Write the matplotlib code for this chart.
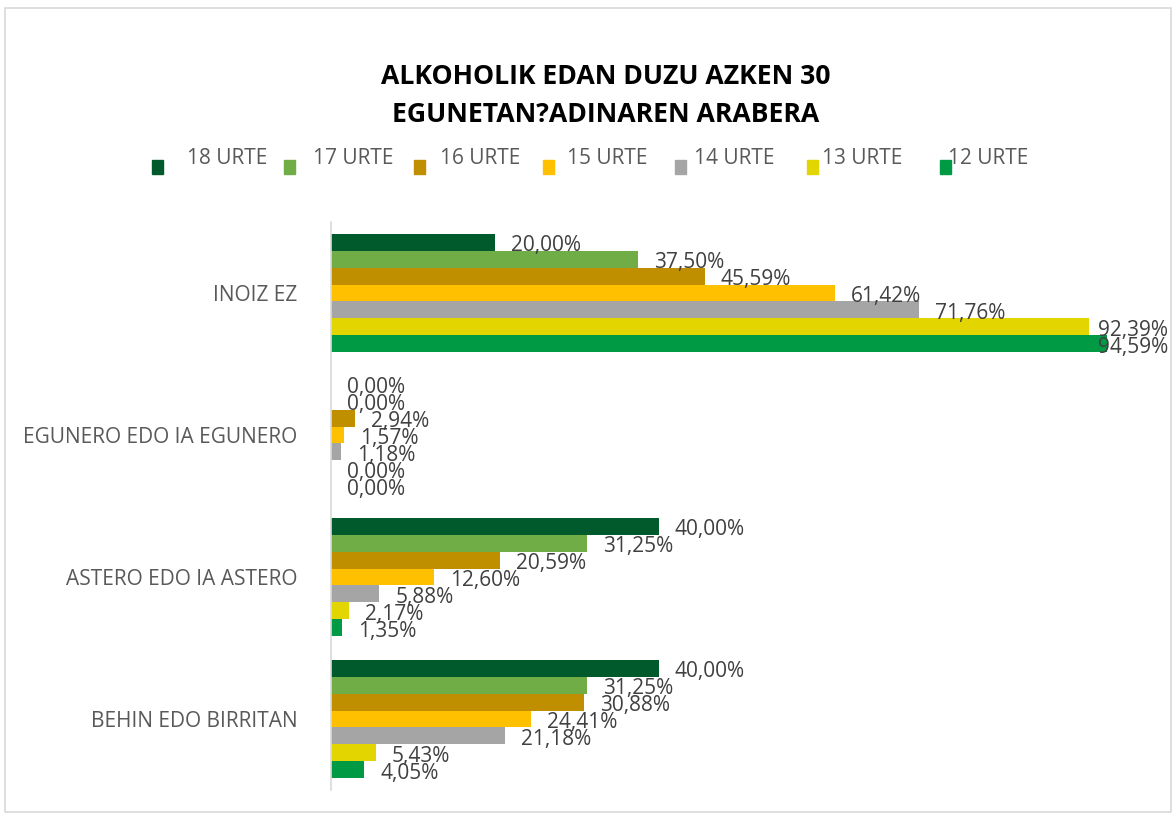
import matplotlib
matplotlib.use("Agg")
import matplotlib.pyplot as plt
from matplotlib.patches import Rectangle
import numpy as np

plt.rcParams['font.family'] = ['Open Sans', 'DejaVu Sans']

title = "ALKOHOLIK EDAN DUZU AZKEN 30\nEGUNETAN?ADINAREN ARABERA"
categories = ["INOIZ EZ", "EGUNERO EDO IA EGUNERO", "ASTERO EDO IA ASTERO", "BEHIN EDO BIRRITAN"]
series = ["18 URTE", "17 URTE", "16 URTE", "15 URTE", "14 URTE", "13 URTE", "12 URTE"]
colors = ["#005A2B", "#70AD47", "#BF8F00", "#FFC000", "#A5A5A5", "#E2D500", "#009A44"]
values = {
    "18 URTE": [20.00, 0.00, 40.00, 40.00],
    "17 URTE": [37.50, 0.00, 31.25, 31.25],
    "16 URTE": [45.59, 2.94, 20.59, 30.88],
    "15 URTE": [61.42, 1.57, 12.60, 24.41],
    "14 URTE": [71.76, 1.18, 5.88, 21.18],
    "13 URTE": [92.39, 0.00, 2.17, 5.43],
    "12 URTE": [94.59, 0.00, 1.35, 4.05],
}

W, H = 1172, 816
fig = plt.figure(figsize=(W / 100, H / 100), dpi=100)
ax = fig.add_axes([331 / W, 1 - 790 / H, 820 / W, 568 / H])

bh = 0.119
n = len(series)
ypos = np.arange(len(categories))
for i, (s, c) in enumerate(zip(series, colors)):
    y = ypos + (i - (n - 1) / 2) * bh
    vals = values[s]
    ax.barh(y, vals, height=bh, color=c, edgecolor='none')
    for yy, v in zip(y, vals):
        lab = f"{v:.2f}%".replace('.', ',')
        ax.annotate(lab, xy=(min(v, 91.6), yy), xytext=(11.5, -2.5), textcoords='offset points',
                    ha='left', va='center', fontsize=15, color='#404040')

ax.set_xlim(0, 100)
ax.set_ylim(3.5, -0.5)
ax.set_yticks(ypos)
ax.set_yticklabels(categories, fontsize=15, color='#595959')
ax.tick_params(axis='y', length=0, pad=24)
ax.set_xticks([])
for sp in ['top', 'right', 'bottom']:
    ax.spines[sp].set_visible(False)
ax.spines['left'].set_color('#D9D9D9')
ax.spines['left'].set_linewidth(1.2)

fig.text(606 / W, 1 - 96 / H, title, ha='center', va='center', fontsize=19.2,
         fontweight='bold', color='black', linespacing=1.55)

# legend
mark_x = [152, 284, 414, 543, 675, 807, 940]
text_x = [187, 313, 440, 567, 694, 822, 948]
for s, c, mx, tx in zip(series, colors, mark_x, text_x):
    fig.patches.append(Rectangle((mx / W, 1 - 174 / H), 11 / W, 14 / H,
                                 transform=fig.transFigure, color=c, figure=fig))
    fig.text(tx / W, 1 - 158 / H, s, ha='left', va='center', fontsize=15, color='#595959')

fig.patches.append(Rectangle((5 / W, 4 / H), (W - 6) / W, (H - 12) / H, transform=fig.transFigure,
                             fill=False, edgecolor='#D9D9D9', linewidth=1.2, figure=fig))

fig.savefig("out.png", dpi=100)
